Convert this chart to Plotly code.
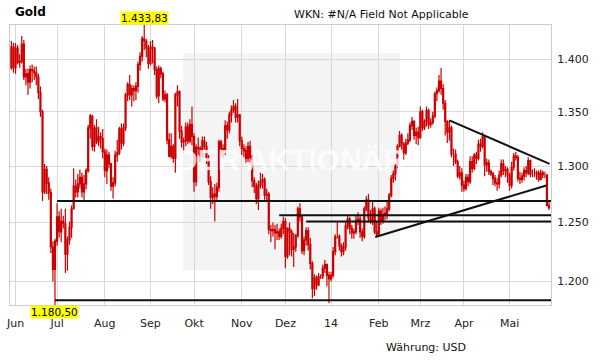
import numpy as np
import pandas as pd
import plotly.graph_objects as go

# ---------------- data (daily OHLC, gold in USD) ----------------
dates = pd.bdate_range("2013-05-30", "2014-05-28")

opens = [
    1392, 1412,
    1392, 1411, 1397, 1398, 1415, 1383, 1386, 1378, 1390, 1389, 1387, 1383, 1368, 1350, 1277, 1297, 1285, 1276, 1229, 1210,
    1234, 1255, 1242, 1251, 1249, 1223, 1235, 1246, 1262, 1282, 1277, 1284, 1290, 1277, 1284, 1296, 1335, 1346, 1318, 1335, 1322, 1327, 1325,
    1313, 1296, 1310, 1302, 1282, 1285, 1310, 1312, 1334, 1321, 1335, 1366, 1376, 1366, 1372, 1370, 1374, 1395, 1403, 1420, 1418, 1411,
    1396, 1412, 1411, 1390, 1365, 1391, 1386, 1362, 1366, 1324, 1309, 1318, 1307, 1366, 1369, 1332, 1322, 1323, 1336, 1323, 1338,
    1327, 1286, 1317, 1316, 1309, 1323, 1318, 1307, 1286, 1272, 1275, 1273, 1281, 1322, 1316, 1314, 1337, 1333, 1347, 1352, 1355, 1345, 1347,
    1323, 1316, 1314, 1307, 1318, 1308, 1287, 1282, 1271, 1283, 1286, 1288, 1274, 1275, 1244, 1243, 1244, 1241, 1242, 1238, 1245,
    1251, 1221, 1245, 1242, 1227, 1229, 1239, 1262, 1255, 1226, 1235, 1243, 1231, 1215, 1194, 1203, 1197, 1204, 1204, 1211, 1214, 1205,
    1202, 1205, 1225, 1238, 1238, 1230, 1225, 1229, 1247, 1253, 1245, 1241, 1242, 1252, 1253, 1242, 1238, 1262, 1270, 1254, 1251, 1262, 1242,
    1240, 1260, 1252, 1257, 1258, 1262, 1274, 1289, 1293, 1300, 1318, 1328, 1320, 1312, 1321, 1324, 1337, 1341, 1328, 1331,
    1326, 1350, 1335, 1341, 1351, 1338, 1340, 1346, 1367, 1370, 1379, 1372, 1358, 1341, 1331, 1335, 1311, 1311, 1304, 1291, 1294,
    1283, 1280, 1290, 1286, 1304, 1298, 1310, 1307, 1320, 1318, 1327, 1301, 1303, 1295, 1293, 1289, 1285, 1284, 1292, 1302, 1296, 1297,
    1292, 1283, 1299, 1309, 1308, 1289, 1288, 1291, 1296, 1294, 1305, 1293, 1293, 1293, 1294, 1288, 1294, 1292, 1292, 1265,
]
highs = [
    1418, 1416,
    1416, 1414, 1405, 1423, 1419, 1391, 1391, 1394, 1395, 1393, 1393, 1386, 1374, 1352, 1302, 1300, 1290, 1280, 1234, 1236,
    1267, 1260, 1262, 1256, 1262, 1238, 1251, 1265, 1298, 1288, 1293, 1297, 1294, 1292, 1298, 1338, 1348, 1347, 1338, 1343, 1336, 1331, 1334,
    1316, 1315, 1313, 1303, 1290, 1314, 1324, 1336, 1339, 1339, 1368, 1378, 1385, 1375, 1375, 1378, 1398, 1407, 1423, 1433.83, 1420, 1414,
    1418, 1419, 1412, 1393, 1394, 1393, 1388, 1370, 1368, 1330, 1330, 1320, 1368, 1375, 1370, 1337, 1326, 1340, 1340, 1343, 1355,
    1330, 1320, 1326, 1318, 1327, 1327, 1322, 1310, 1291, 1281, 1284, 1285, 1324, 1324, 1320, 1342, 1341, 1350, 1356, 1361, 1358, 1362, 1348,
    1327, 1320, 1318, 1322, 1323, 1310, 1290, 1285, 1287, 1294, 1293, 1290, 1280, 1277, 1248, 1250, 1248, 1249, 1245, 1249, 1255,
    1254, 1246, 1250, 1244, 1241, 1240, 1264, 1267, 1256, 1238, 1246, 1246, 1237, 1217, 1206, 1205, 1207, 1206, 1214, 1218, 1215, 1208,
    1208, 1229, 1240, 1251, 1240, 1232, 1233, 1250, 1256, 1255, 1248, 1245, 1256, 1259, 1256, 1245, 1264, 1273, 1275, 1261, 1268, 1264, 1251,
    1263, 1262, 1263, 1264, 1268, 1276, 1292, 1296, 1302, 1320, 1332, 1330, 1322, 1325, 1330, 1340, 1345, 1342, 1335, 1336,
    1355, 1352, 1343, 1355, 1353, 1344, 1350, 1369, 1373, 1385, 1392, 1376, 1361, 1342, 1342, 1337, 1316, 1315, 1306, 1300, 1298,
    1287, 1293, 1293, 1309, 1309, 1312, 1313, 1324, 1325, 1331, 1328, 1307, 1306, 1297, 1295, 1292, 1289, 1296, 1306, 1306, 1300, 1299,
    1294, 1304, 1312, 1313, 1310, 1295, 1294, 1299, 1300, 1308, 1306, 1297, 1298, 1296, 1296, 1297, 1296, 1295, 1293, 1268,
]
lows = [
    1390, 1387,
    1386, 1395, 1392, 1396, 1380, 1375, 1366, 1372, 1378, 1380, 1375, 1362, 1345, 1269, 1275, 1275, 1270, 1224, 1200, 1180.5,
    1230, 1237, 1233, 1245, 1207, 1209, 1231, 1237, 1262, 1272, 1272, 1280, 1272, 1268, 1279, 1294, 1325, 1314, 1313, 1320, 1318, 1316, 1307,
    1290, 1284, 1298, 1278, 1271, 1282, 1304, 1310, 1315, 1318, 1332, 1360, 1361, 1355, 1360, 1361, 1368, 1389, 1398, 1409, 1402, 1391,
    1394, 1396, 1385, 1362, 1358, 1382, 1360, 1359, 1320, 1308, 1307, 1303, 1294, 1355, 1325, 1317, 1312, 1318, 1320, 1321, 1319,
    1277, 1282, 1310, 1304, 1307, 1315, 1302, 1283, 1262, 1266, 1251, 1270, 1277, 1309, 1307, 1310, 1325, 1330, 1340, 1349, 1340, 1340, 1318,
    1310, 1308, 1303, 1304, 1303, 1281, 1276, 1266, 1261, 1280, 1280, 1270, 1268, 1240, 1233, 1238, 1227, 1235, 1235, 1236, 1240,
    1211, 1219, 1222, 1221, 1212, 1225, 1237, 1251, 1223, 1222, 1230, 1226, 1210, 1186, 1188, 1193, 1196, 1202, 1202, 1207, 1196, 1182,
    1200, 1203, 1222, 1236, 1226, 1221, 1222, 1226, 1244, 1240, 1236, 1236, 1240, 1248, 1237, 1234, 1236, 1260, 1250, 1249, 1248, 1240, 1238,
    1238, 1248, 1249, 1252, 1253, 1260, 1272, 1285, 1287, 1298, 1317, 1315, 1306, 1310, 1319, 1322, 1333, 1324, 1320, 1319,
    1325, 1332, 1333, 1336, 1334, 1335, 1338, 1344, 1360, 1368, 1366, 1352, 1328, 1321, 1323, 1308, 1300, 1302, 1289, 1288, 1277,
    1277, 1278, 1282, 1284, 1294, 1296, 1302, 1305, 1313, 1316, 1291, 1295, 1292, 1291, 1283, 1282, 1278, 1280, 1290, 1292, 1290, 1285,
    1278, 1280, 1296, 1305, 1286, 1284, 1285, 1287, 1290, 1292, 1290, 1290, 1290, 1288, 1286, 1287, 1289, 1289, 1264, 1261,
]
closes = [
    1412, 1392,
    1411, 1397, 1398, 1415, 1383, 1386, 1378, 1390, 1389, 1387, 1383, 1368, 1350, 1277, 1297, 1285, 1276, 1229, 1210, 1234,
    1255, 1242, 1251, 1249, 1223, 1235, 1246, 1262, 1282, 1277, 1284, 1290, 1277, 1284, 1296, 1335, 1346, 1318, 1335, 1322, 1327, 1325, 1313,
    1296, 1310, 1302, 1282, 1285, 1310, 1312, 1334, 1321, 1335, 1366, 1376, 1366, 1372, 1370, 1374, 1395, 1403, 1420, 1418, 1411, 1396,
    1412, 1411, 1390, 1365, 1391, 1386, 1362, 1366, 1324, 1309, 1318, 1307, 1366, 1369, 1332, 1322, 1323, 1336, 1323, 1338, 1327,
    1286, 1317, 1316, 1309, 1323, 1318, 1307, 1286, 1272, 1275, 1273, 1281, 1322, 1316, 1314, 1337, 1333, 1347, 1352, 1355, 1345, 1347, 1323,
    1316, 1314, 1307, 1318, 1308, 1287, 1282, 1271, 1283, 1286, 1288, 1274, 1275, 1244, 1243, 1244, 1241, 1242, 1238, 1245, 1251,
    1221, 1245, 1242, 1227, 1229, 1239, 1262, 1255, 1226, 1235, 1243, 1231, 1215, 1194, 1203, 1197, 1204, 1204, 1211, 1214, 1205, 1202,
    1205, 1225, 1238, 1238, 1230, 1225, 1229, 1247, 1253, 1245, 1241, 1242, 1252, 1253, 1242, 1238, 1262, 1270, 1254, 1251, 1262, 1242, 1240,
    1260, 1252, 1257, 1258, 1262, 1274, 1289, 1293, 1300, 1318, 1328, 1320, 1312, 1321, 1324, 1337, 1341, 1328, 1331, 1326,
    1350, 1335, 1341, 1351, 1338, 1340, 1346, 1367, 1370, 1379, 1372, 1358, 1341, 1331, 1335, 1311, 1311, 1304, 1291, 1294, 1283,
    1280, 1290, 1286, 1304, 1298, 1310, 1307, 1320, 1318, 1327, 1301, 1303, 1295, 1293, 1289, 1285, 1284, 1292, 1302, 1296, 1297, 1292,
    1283, 1299, 1309, 1308, 1289, 1288, 1291, 1296, 1294, 1305, 1293, 1293, 1293, 1294, 1288, 1294, 1292, 1292, 1265, 1263,
]

# axis ticks
month_ticks = ["2013-06-03", "2013-07-01", "2013-08-01", "2013-09-02", "2013-10-01", "2013-11-01",
               "2013-12-02", "2014-01-01", "2014-02-03", "2014-03-03", "2014-04-01", "2014-05-01"]
month_labels = ["Jun", "Jul", "Aug", "Sep", "Okt", "Nov", "Dez", "14", "Feb", "Mrz", "Apr", "Mai"]
y_ticks = [1200, 1250, 1300, 1350, 1400]
y_labels = ["1.200", "1.250", "1.300", "1.350", "1.400"]

# highlighted extremes
high_date, high_value, high_label = "2013-08-28", 1433.83, "1.433,83"
low_date, low_value, low_label = "2013-06-28", 1180.50, "1.180,50"

# support / resistance lines: (start date, level)
h_lines = [("2013-07-01", 1268.8), ("2013-11-27", 1256.5), ("2013-12-16", 1251.0), ("2013-06-28", 1184.5)]
# trend lines: (date0, value0, date1, value1)
trend_lines = [("2014-03-21 01:00", 1342.0, "2014-05-28 07:00", 1302.0),
               ("2014-01-30 07:00", 1237.5, "2014-05-26 17:00", 1282.7)]

x_start, x_end = "2013-05-29 08:00", "2014-05-28 23:00"

assert len(dates) == len(opens) == len(highs) == len(lows) == len(closes)

RED = "#cc0000"
fig = go.Figure(go.Candlestick(
    x=dates, open=opens, high=highs, low=lows, close=closes,
    increasing=dict(line=dict(color=RED, width=1.2), fillcolor=RED),
    decreasing=dict(line=dict(color=RED, width=1.2), fillcolor=RED),
    whiskerwidth=0, hoverinfo="skip", showlegend=False,
))

shapes = [dict(type="rect", xref="paper", yref="paper", x0=0.3198, x1=0.7209, y0=0.125, y1=0.9,
               fillcolor="#f4f4f4", line=dict(width=0), layer="below")]
for d0, lvl in h_lines:
    shapes.append(dict(type="line", xref="x", yref="y", x0=d0, x1=x_end, y0=lvl, y1=lvl,
                       line=dict(color="#111111", width=2), layer="above"))
for d0, v0, d1, v1 in trend_lines:
    shapes.append(dict(type="line", xref="x", yref="y", x0=d0, x1=d1, y0=v0, y1=v1,
                       line=dict(color="#111111", width=2), layer="above"))

annotations = [
    dict(text="<b>Gold</b>", xref="paper", yref="paper", x=0.0055, y=1.046, xanchor="left", yanchor="middle",
         showarrow=False, font=dict(family="DejaVu Sans", size=12, color="#000")),
    dict(text="WKN: #N/A Field Not Applicable", xref="paper", yref="paper", x=0.5213, y=1.039,
         xanchor="left", yanchor="middle", showarrow=False, font=dict(family="DejaVu Sans", size=11, color="#111")),
    dict(text="Währung: USD", xref="paper", yref="paper", x=0.8466, y=-0.15, xanchor="right", yanchor="middle",
         showarrow=False, font=dict(family="DejaVu Sans", size=11, color="#111")),
    dict(text=high_label, xref="x", yref="paper", x=high_date, y=1.0, xanchor="center", yanchor="bottom",
         showarrow=False, bgcolor="#ffff00", borderpad=0, font=dict(family="DejaVu Sans", size=10.5, color="#000")),
    dict(text=low_label, xref="x", yref="paper", x=low_date, y=0.0, xanchor="center", yanchor="top",
         showarrow=False, bgcolor="#ffff00", borderpad=0, font=dict(family="DejaVu Sans", size=10.5, color="#000")),
    dict(text="<b>DER AKTIONÄR</b>", xref="paper", yref="paper", x=0.5176, y=0.518, xanchor="center", yanchor="middle",
         showarrow=False, font=dict(family="Liberation Sans", size=30, color="rgba(255,255,255,0.8)")),
]

fig.update_layout(
    width=611, height=364, margin=dict(l=10, r=60, t=25, b=59, pad=0, autoexpand=False),
    paper_bgcolor="white", plot_bgcolor="white", showlegend=False, separators=",.",
    font=dict(family="DejaVu Sans", size=11, color="#222"),
    shapes=shapes, annotations=annotations,
)
fig.update_xaxes(
    type="date", range=[x_start, x_end], rangebreaks=[dict(bounds=["sat", "mon"])],
    rangeslider_visible=False, tickmode="array", tickvals=month_ticks, ticktext=month_labels,
    showgrid=True, gridcolor="#d9d9d9", gridwidth=1, showline=True, linecolor="#cccccc", linewidth=1,
    mirror=True, ticks="", ticklabelstandoff=8, zeroline=False, automargin=False,
    tickfont=dict(family="DejaVu Sans", size=11, color="#222"),
)
fig.update_yaxes(
    type="log", range=[np.log10(1180.5), np.log10(1433.83)], side="right",
    tickmode="array", tickvals=y_ticks, ticktext=y_labels,
    showgrid=True, gridcolor="#d9d9d9", gridwidth=1, showline=True, linecolor="#cccccc", linewidth=1,
    mirror=True, ticks="", ticklabelstandoff=3, zeroline=False, automargin=False,
    tickfont=dict(family="DejaVu Sans", size=11, color="#222"),
)

# remove the browser's default 8px body margin so the figure fills the window exactly
fig.write_html("out.html", config={"displayModeBar": False},
               post_script="document.body.style.margin='0px';document.body.style.overflow='hidden';")
